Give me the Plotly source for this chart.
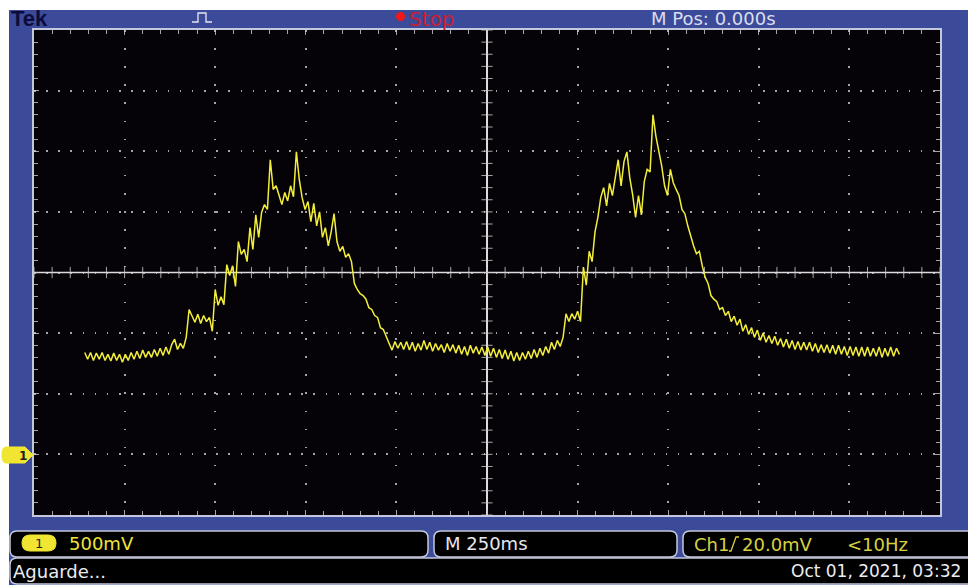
import numpy as np
import plotly.graph_objects as go

W, H = 968, 585

# ---- acquisition settings -------------------------------------------------
volts_per_div = 0.5          # CH1 500 mV/div
sec_per_div = 0.25           # M 250 ms/div
t_start_ms = -1110           # first sample time
sample_ms = 8                # sample interval

# CH1 record, millivolts relative to channel ground
ch1_mv = [
    840, 785, 840, 775, 835, 785, 840, 775, 825, 770,
    835, 775, 825, 760, 825, 775, 840, 785, 850, 790,
    860, 800, 850, 800, 865, 810, 875, 815, 885, 825,
    905, 950, 865, 915, 875, 965, 1195, 1145, 1090, 1155,
    1080, 1145, 1095, 1130, 1015, 1360, 1230, 1300, 1235, 1565,
    1475, 1555, 1385, 1755, 1650, 1690, 1590, 1870, 1690, 1975,
    1790, 1995, 2060, 2020, 2430, 2185, 2215, 2140, 2060, 2160,
    2090, 2215, 2125, 2495, 2265, 2115, 2020, 2085, 1920, 2070,
    1885, 2000, 1790, 1870, 1720, 1835, 1985, 1755, 1675, 1715,
    1625, 1655, 1590, 1410, 1360, 1325, 1310, 1280, 1210, 1195,
    1145, 1130, 1045, 1030, 965, 915, 860, 930, 875, 925,
    865, 930, 860, 925, 850, 915, 860, 940, 865, 925,
    850, 915, 860, 905, 840, 915, 850, 905, 835, 900,
    825, 890, 815, 900, 835, 890, 825, 885, 815, 885,
    810, 875, 800, 865, 790, 860, 785, 850, 770, 840,
    775, 840, 785, 850, 790, 865, 800, 875, 815, 890,
    835, 925, 865, 940, 890, 965, 1160, 1095, 1160, 1115,
    1180, 1095, 1545, 1395, 1675, 1590, 1835, 1955, 2120, 2200,
    2050, 2235, 2135, 2300, 2430, 2215, 2415, 2495, 2280, 2140,
    1955, 2135, 1975, 2250, 2350, 2330, 2800, 2625, 2510, 2380,
    2215, 2135, 2350, 2240, 2185, 2135, 2020, 1985, 1885, 1790,
    1720, 1655, 1675, 1555, 1460, 1410, 1310, 1280, 1260, 1195,
    1210, 1145, 1180, 1095, 1140, 1065, 1115, 1015, 1070, 990,
    1045, 965, 1025, 940, 1000, 925, 980, 915, 975, 900,
    955, 885, 950, 875, 940, 865, 930, 860, 925, 860,
    925, 850, 915, 840, 905, 840, 905, 835, 900, 825,
    900, 825, 890, 815, 890, 815, 885, 810, 885, 810,
    885, 810, 875, 810, 885, 800, 875, 810, 885, 810,
    875, 825,
]

# readouts
top_labels = {"brand": "Tek", "state": "Stop", "mpos": "M Pos: 0.000s"}
ch_scale = "500mV"
timebase = "M 250ms"
trig_src = "Ch1"
trig_level = "20.0mV"
trig_freq = "<10Hz"
status = "Aguarde..."
stamp = "Oct 01, 2021, 03:32"

t = (t_start_ms + sample_ms * np.arange(len(ch1_mv))) / 1000.0
v = np.array(ch1_mv) / 1000.0

# screen: 10 horizontal divisions, 8 vertical; ground 3 divs below centre
x_lo, x_hi = -5 * sec_per_div, 5 * sec_per_div
y_lo, y_hi = -1 * volts_per_div, 7 * volts_per_div
y_mid = 3 * volts_per_div

BLUE = "#3c4a9a"
GRAT = "rgba(205,205,205,0.8)"
EDGE = "#c4c8dc"
YEL = "#f2ee3a"
TRIG = "#d6d040"


def px(x):
    return x / W


def py(y):
    return 1 - y / H


def rbox(x0, y0, x1, y1, r):
    return (f"M{px(x0 + r)},{py(y0)} L{px(x1 - r)},{py(y0)} "
            f"Q{px(x1)},{py(y0)} {px(x1)},{py(y0 + r)} "
            f"L{px(x1)},{py(y1 - r)} Q{px(x1)},{py(y1)} {px(x1 - r)},{py(y1)} "
            f"L{px(x0 + r)},{py(y1)} Q{px(x0)},{py(y1)} {px(x0)},{py(y1 - r)} "
            f"L{px(x0)},{py(y0 + r)} Q{px(x0)},{py(y0)} {px(x0 + r)},{py(y0)} Z")


fig = go.Figure()

# centre-line minor ticks
xt = np.arange(x_lo, x_hi + 1e-9, sec_per_div / 5)
yt = np.arange(y_lo, y_hi + 1e-9, volts_per_div / 5)
fig.add_trace(go.Scatter(x=xt, y=np.full(len(xt), y_mid), mode="markers",
                         marker=dict(symbol="line-ns", size=8,
                                     line=dict(color=GRAT, width=1)),
                         hoverinfo="skip"))
fig.add_trace(go.Scatter(x=np.zeros(len(yt)), y=yt, mode="markers",
                         marker=dict(symbol="line-ew", size=8,
                                     line=dict(color=GRAT, width=1)),
                         hoverinfo="skip"))

# the waveform
fig.add_trace(go.Scatter(x=t, y=v, mode="lines",
                         line=dict(color=YEL, width=1.5),
                         hoverinfo="skip"))

shapes = []
# white page edge
shapes.append(dict(type="rect", xref="paper", yref="paper", x0=0, x1=1,
                   y0=py(10), y1=1, fillcolor="white", line_width=0))
shapes.append(dict(type="rect", xref="paper", yref="paper", x0=0, x1=px(9),
                   y0=0, y1=1, fillcolor="white", line_width=0))
# horizontal centre line
shapes.append(dict(type="line", xref="x", yref="y", x0=x_lo, x1=x_hi,
                   y0=y_mid, y1=y_mid, line=dict(color="#dcdcdc", width=1.5),
                   layer="between"))
# bottom readout bars
for x0, x1 in [(10, 428), (434, 677), (683, 975)]:
    shapes.append(dict(type="path", xref="paper", yref="paper",
                       path=rbox(x0, 531, x1, 557, 7),
                       fillcolor="black", line=dict(color=EDGE, width=1.5)))
shapes.append(dict(type="path", xref="paper", yref="paper",
                   path=rbox(10, 558, 975, 584, 7),
                   fillcolor="black", line=dict(color=EDGE, width=1.5)))
# channel badge in the readout
shapes.append(dict(type="path", xref="paper", yref="paper",
                   path=rbox(22, 535, 56, 551, 8),
                   fillcolor="#f0e632", line=dict(color="#f0e632", width=1)))
# rising-edge trigger slope glyph
shapes.append(dict(type="path", xref="paper", yref="paper",
                   path=(f"M{px(729)},{py(551)} L{px(731)},{py(551)} "
                         f"L{px(736)},{py(537)} L{px(739)},{py(537)}"),
                   line=dict(color=TRIG, width=1.3)))
# ground marker for CH1
gy = 455
shapes.append(dict(type="path", xref="paper", yref="paper",
                   path=(f"M{px(6)},{py(gy - 8)} L{px(25)},{py(gy - 8)} "
                         f"L{px(33)},{py(gy)} L{px(25)},{py(gy + 8)} "
                         f"L{px(6)},{py(gy + 8)} Q{px(2)},{py(gy + 8)} {px(2)},{py(gy)} "
                         f"Q{px(2)},{py(gy - 8)} {px(6)},{py(gy - 8)} Z"),
                   fillcolor="#f0e632", line=dict(color="#f0e632", width=1)))
# trigger-type pulse glyph
shapes.append(dict(type="path", xref="paper", yref="paper",
                   path=(f"M{px(192)},{py(22)} L{px(198)},{py(22)} L{px(198)},{py(13)} "
                         f"L{px(206)},{py(13)} L{px(206)},{py(22)} L{px(212)},{py(22)}"),
                   line=dict(color="#e8e8f0", width=1.3)))
# run/stop dot
shapes.append(dict(type="circle", xref="paper", yref="paper",
                   x0=px(396), x1=px(405), y0=py(21), y1=py(12),
                   fillcolor="#f01818", line_width=0))

ann = []


def label(text, x, y, color, size, family="DejaVu Sans", anchor="left", bold=False):
    ann.append(dict(text=f"<b>{text}</b>" if bold else text, x=px(x), y=py(y),
                    xref="paper", yref="paper", xanchor=anchor, yanchor="middle",
                    showarrow=False, font=dict(color=color, size=size, family=family)))


label(top_labels["brand"], 9, 18, "#0c0c3c", 22, "Liberation Sans", bold=True)
label(top_labels["state"], 407, 19, "#c81e32", 20)
label(top_labels["mpos"], 649, 19, "#dadeee", 18)
label("1", 17, gy + 1, "#202020", 12, bold=True)
label("1", 39, 543, "#202020", 13, anchor="center")
label(ch_scale, 67, 543, "#ece43c", 18)
label(timebase, 443, 543, "#e6e6ee", 18)
label(trig_src, 692, 544, TRIG, 18)
label(trig_level, 740, 544, TRIG, 18)
label(trig_freq, 845, 544, TRIG, 18)
label(status, 11, 571, "#ececf0", 18)
label(stamp, 963, 571, "#ececf0", 17, anchor="right")

axis_common = dict(showticklabels=False, showline=True, linecolor=EDGE, linewidth=1.5,
                   mirror="allticks", ticks="inside", ticklen=5, tickcolor=GRAT,
                   fixedrange=True, showgrid=True, gridcolor=GRAT, gridwidth=1.5)

fig.update_layout(
    width=W, height=H, margin=dict(l=0, r=0, t=0, b=0),
    paper_bgcolor=BLUE, plot_bgcolor="#050308", showlegend=False,
    shapes=shapes, annotations=ann,
    xaxis=dict(range=[x_lo, x_hi], domain=[px(34), px(940)], dtick=sec_per_div, tick0=0,
               griddash="1.5px,16.62px", zeroline=True, zerolinecolor="#dcdcdc",
               zerolinewidth=1.5,
               minor=dict(dtick=sec_per_div / 5, ticks="inside", ticklen=4,
                          tickcolor=GRAT, showgrid=False),
               **axis_common),
    yaxis=dict(range=[y_lo, y_hi], domain=[py(515), py(30)], dtick=volts_per_div, tick0=0,
               griddash="1.5px,10.65px", zeroline=False,
               minor=dict(dtick=volts_per_div / 5, ticks="inside", ticklen=4,
                          tickcolor=GRAT, showgrid=False),
               **axis_common),
)

fig.write_html("out.html")
